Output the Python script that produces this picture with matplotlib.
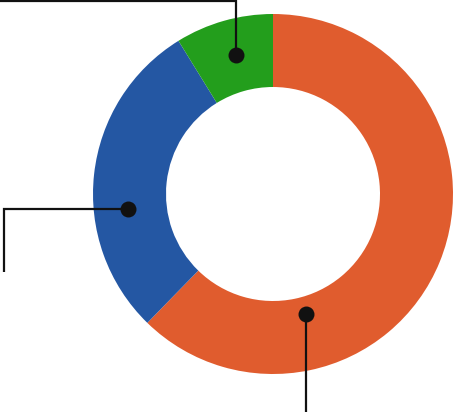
import matplotlib
matplotlib.use('Agg')
import matplotlib.pyplot as plt

# slice shares, clockwise from 12 o'clock
labels = ['Orange', 'Blue', 'Green']
values = [62.3, 28.9, 8.8]
colors = ['#E05C2E', '#2457A3', '#239E1C']

W, H = 454, 412
fig = plt.figure(figsize=(W / 100, H / 100), dpi=100)
ax = fig.add_axes([0, 0, 1, 1])
ax.set_xlim(0, W)
ax.set_ylim(0, H)
ax.set_aspect('equal')
ax.axis('off')

cx, cy = 273, H - 194
ax.pie(values, colors=colors, startangle=90, counterclock=False,
       radius=180, center=(cx, cy),
       wedgeprops=dict(width=73, linewidth=0, antialiased=True))
ax.set_xlim(0, W)
ax.set_ylim(0, H)

# leader lines (pixel coords, y from top)
leaders = [
    [(236, 55), (236, 1), (0, 1)],       # green
    [(128, 209), (3.5, 209), (3.5, 272)],  # blue
    [(306, 314), (306, 412)],            # orange
]
for pts in leaders:
    xs = [p[0] for p in pts]
    ys = [H - p[1] for p in pts]
    ax.plot(xs, ys, color='#111111', lw=1.6, solid_capstyle='butt',
            solid_joinstyle='miter', zorder=3)
    ax.plot(xs[0], ys[0], 'o', color='#111111', ms=11.5, mew=0, zorder=4)

fig.savefig('out.png', dpi=100)
